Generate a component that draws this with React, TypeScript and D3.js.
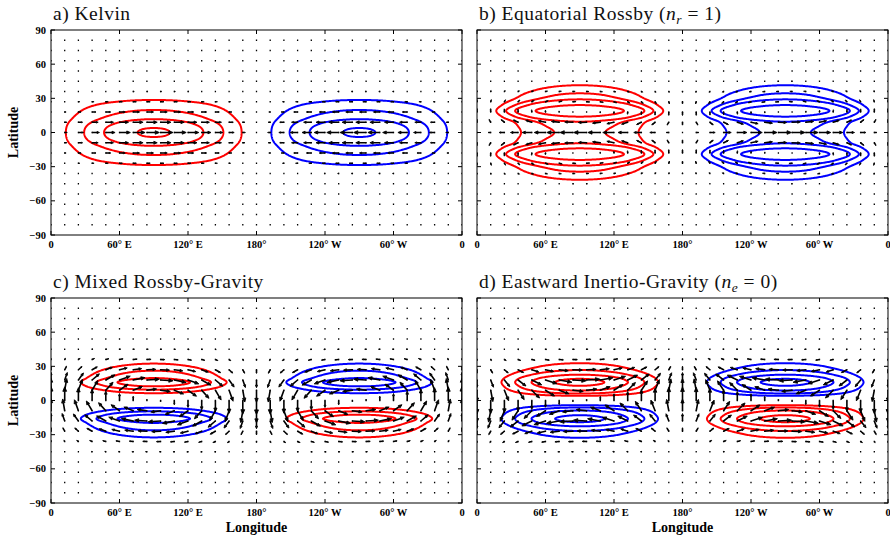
import React from 'react';
import * as d3 from 'd3';

// ---------- axes ----------
const LON_TICKS = [0, 60, 120, 180, 240, 300, 360];
const LON_TICK_LABELS = ['0', '60\u00b0 E', '120\u00b0 E', '180\u00b0', '120\u00b0 W', '60\u00b0 W', '0'];
const LAT_TICKS = [-90, -60, -30, 0, 30, 60, 90];
const LAT_TICK_LABELS = ['\u221290', '\u221260', '\u221230', '0', '30', '60', '90'];

// ---------- quiver grid ----------
const ARROW_LONS = [0, 12, 24, 36, 48, 60, 72, 84, 96, 108, 120, 132, 144, 156, 168, 180, 192, 204, 216, 228, 240, 252, 264, 276, 288, 300, 312, 324, 336, 348, 360];
const ARROW_ABS_LATS = [0, 9, 18, 27, 36, 45, 54, 63, 72, 81];

// ---------- a) Kelvin ----------
const KELVIN_H_LATS = [0, 4, 8, 12, 16, 20, 24, 28, 32, 36, 40, 45, 50, 60, 90];
const KELVIN_H = [1, 0.97, 0.87, 0.715, 0.59, 0.478, 0.36, 0.24, 0.15, 0.085, 0.045, 0.02, 0.008, 0, 0];
const KELVIN_LEVELS = [0.225, 0.485, 0.725, 0.97];
const KELVIN_U = [1, 0.831, 0.534, 0.27, 0.085, 0.02, 0.004, 0, 0, 0];
const KELVIN_V = [0, 0, 0, 0, 0, 0, 0, 0, 0, 0];

// ---------- b) Equatorial Rossby n=1 ----------
const ROSSBY_H_LATS = [0, 5, 9.5, 13.9, 19, 24.1, 29.1, 34.4, 41.5, 48, 55, 63, 72, 90];
const ROSSBY_H = [0.465, 0.49, 0.55, 0.78, 1, 0.78, 0.55, 0.43, 0.29, 0.17, 0.08, 0.03, 0.01, 0];
const ROSSBY_LEVELS = [0.29, 0.43, 0.55, 0.78];
const ROSSBY_U = [-1, -0.636, -0.015, 0.244, 0.175, 0.063, 0.014, 0.002, 0, 0];
const ROSSBY_V = [0, 0.225, 0.266, 0.166, 0.065, 0.017, 0.003, 0, 0, 0];

// ---------- c) Mixed Rossby-Gravity ----------
const MRG_H_LATS = [0, 6.4, 9.5, 12.4, 16, 19.7, 26.2, 32.4, 38, 44, 50, 60, 90];
const MRG_H = [0, 0.44, 0.64, 0.85, 1, 0.85, 0.64, 0.44, 0.28, 0.15, 0.07, 0.015, 0];
const MRG_LEVELS = [0.44, 0.64, 0.85];
const MRG_U = [0, 0.7, 0.89, 0.64, 0.3, 0.098, 0.023, 0.004, 0, 0];
const MRG_V = [1, 0.862, 0.552, 0.262, 0.093, 0.024, 0.005, 0.001, 0, 0];

// ---------- d) Eastward Inertio-Gravity n=0 ----------
const EIG_H_LATS = [0, 4.1, 6.15, 8.75, 12.9, 16, 19.05, 22.7, 26.75, 32.75, 39, 45, 52, 60, 90];
const EIG_H = [0, 0.365, 0.55, 0.74, 0.93, 1, 0.93, 0.74, 0.55, 0.365, 0.2, 0.1, 0.04, 0.01, 0];
const EIG_LEVELS = [0.365, 0.55, 0.74, 0.93];
const EIG_U = [0, 0.774, 0.992, 0.707, 0.333, 0.109, 0.026, 0.004, 0, 0];
const EIG_V = [-1, -0.862, -0.552, -0.262, -0.093, -0.024, -0.005, -0.001, 0, 0];

const WAVENUMBER = 1;
const PLOT_W = 411;
const PLOT_H = 205;
const SERIF = '"Liberation Serif", "Times New Roman", serif';

type PanelDef = {
  id: string;
  x0: number;
  y0: number;
  hLats: number[];
  hVals: number[];
  hParity: number; // 1 symmetric, -1 antisymmetric
  levels: number[];
  uProf: number[];
  vProf: number[];
  uParity: number;
  vParity: number;
  arrowScale: number;
  showYLabels: boolean;
  showXTitle: boolean;
  title: React.ReactNode;
};

const PANELS: PanelDef[] = [
  {
    id: 'a', x0: 51, y0: 30, hLats: KELVIN_H_LATS, hVals: KELVIN_H, hParity: 1, levels: KELVIN_LEVELS,
    uProf: KELVIN_U, vProf: KELVIN_V, uParity: 1, vParity: -1, arrowScale: 12.5, showYLabels: true, showXTitle: false,
    title: <tspan>a) Kelvin</tspan>,
  },
  {
    id: 'b', x0: 477, y0: 30, hLats: ROSSBY_H_LATS, hVals: ROSSBY_H, hParity: 1, levels: ROSSBY_LEVELS,
    uProf: ROSSBY_U, vProf: ROSSBY_V, uParity: 1, vParity: -1, arrowScale: 13, showYLabels: false, showXTitle: false,
    title: (
      <>
        <tspan>b) Equatorial Rossby (</tspan>
        <tspan fontStyle="italic">n</tspan>
        <tspan fontStyle="italic" fontSize={13.5} dy={4}>r</tspan>
        <tspan dy={-4}> = 1)</tspan>
      </>
    ),
  },
  {
    id: 'c', x0: 51, y0: 298, hLats: MRG_H_LATS, hVals: MRG_H, hParity: -1, levels: MRG_LEVELS,
    uProf: MRG_U, vProf: MRG_V, uParity: -1, vParity: 1, arrowScale: 14, showYLabels: true, showXTitle: true,
    title: <tspan>c) Mixed Rossby-Gravity</tspan>,
  },
  {
    id: 'd', x0: 477, y0: 298, hLats: EIG_H_LATS, hVals: EIG_H, hParity: -1, levels: EIG_LEVELS,
    uProf: EIG_U, vProf: EIG_V, uParity: -1, vParity: 1, arrowScale: 13.5, showYLabels: false, showXTitle: true,
    title: (
      <>
        <tspan>d) Eastward Inertio-Gravity (</tspan>
        <tspan fontStyle="italic">n</tspan>
        <tspan fontStyle="italic" fontSize={13.5} dy={4}>e</tspan>
        <tspan dy={-4}> = 0)</tspan>
      </>
    ),
  },
];

const RAD = Math.PI / 180;
const NX = 361; // lon step 1
const NY = 361; // lat step 0.5
const LON_STEP = 1;
const LAT_STEP = 0.5;

// smooth (monotone cubic) meridional profile through the read-off knots,
// mirrored about the equator with the given parity
function makeProfile(lats: number[], vals: number[], parity: number) {
  const xs: number[] = [];
  const ys: number[] = [];
  for (let k = lats.length - 1; k > 0; k--) {
    xs.push(-lats[k]);
    ys.push(parity * vals[k]);
  }
  for (let k = 0; k < lats.length; k++) {
    xs.push(lats[k]);
    ys.push(vals[k]);
  }
  const n = xs.length;
  const h: number[] = [];
  const s: number[] = [];
  for (let i = 0; i < n - 1; i++) {
    h[i] = xs[i + 1] - xs[i];
    s[i] = (ys[i + 1] - ys[i]) / h[i];
  }
  const m: number[] = new Array(n).fill(0);
  m[0] = s[0];
  m[n - 1] = s[n - 2];
  for (let i = 1; i < n - 1; i++) {
    const p = (s[i - 1] * h[i] + s[i] * h[i - 1]) / (h[i - 1] + h[i]);
    m[i] = (Math.sign(s[i - 1]) + Math.sign(s[i])) * Math.min(Math.abs(s[i - 1]), Math.abs(s[i]), 0.5 * Math.abs(p)) || 0;
  }
  return (xv: number) => {
    if (xv <= xs[0]) return ys[0];
    if (xv >= xs[n - 1]) return ys[n - 1];
    let i = d3.bisectRight(xs, xv) - 1;
    if (i > n - 2) i = n - 2;
    const hh = h[i];
    const t = (xv - xs[i]) / hh;
    const t2 = t * t;
    const t3 = t2 * t;
    return (
      (2 * t3 - 3 * t2 + 1) * ys[i] +
      (t3 - 2 * t2 + t) * hh * m[i] +
      (-2 * t3 + 3 * t2) * ys[i + 1] +
      (t3 - t2) * hh * m[i + 1]
    );
  };
}

function Panel({ p }: { p: PanelDef }) {
  const x = d3.scaleLinear().domain([0, 360]).range([p.x0, p.x0 + PLOT_W]);
  const y = d3.scaleLinear().domain([-90, 90]).range([p.y0 + PLOT_H, p.y0]);

  const hProfile = makeProfile(p.hLats, p.hVals, p.hParity);
  const values: number[] = new Array(NX * NY);
  for (let j = 0; j < NY; j++) {
    const lat = -90 + j * LAT_STEP;
    const mv = hProfile(lat);
    for (let i = 0; i < NX; i++) {
      const lon = i * LON_STEP;
      values[j * NX + i] = mv * Math.sin(WAVENUMBER * lon * RAD);
    }
  }
  const neg = values.map((v) => -v);
  const gen = d3.contours().size([NX, NY]).thresholds(p.levels);
  const posC = gen(values);
  const negC = gen(neg);
  const proj = d3.geoTransform({
    point(px: number, py: number) {
      (this as any).stream.point(x((px - 0.5) * LON_STEP), y(-90 + (py - 0.5) * LAT_STEP));
    },
  });
  const path = d3.geoPath(proj);

  // arrows
  const signedLats: { lat: number; idx: number }[] = [];
  ARROW_ABS_LATS.forEach((a, idx) => {
    if (a === 0) signedLats.push({ lat: 0, idx });
    else {
      signedLats.push({ lat: a, idx });
      signedLats.push({ lat: -a, idx });
    }
  });
  const dots: string[] = [];
  const arrows: string[] = [];
  const heads: string[] = [];
  const S = p.arrowScale;
  ARROW_LONS.forEach((lon) => {
    const sn = Math.sin(WAVENUMBER * lon * RAD);
    const cs = Math.cos(WAVENUMBER * lon * RAD);
    signedLats.forEach(({ lat, idx }) => {
      const sg = Math.sign(lat);
      const u = p.uProf[idx] * (p.uParity < 0 ? sg : 1) * sn;
      const v = p.vProf[idx] * (p.vParity < 0 ? sg : 1) * cs;
      const X = x(lon);
      const Y = y(lat);
      dots.push(`M${(X - 0.65).toFixed(2)},${(Y - 0.65).toFixed(2)}h1.3v1.3h-1.3Z`);
      const dx = S * u;
      const dy = -S * v;
      const L = Math.hypot(dx, dy);
      if (L < 0.8) return;
      const tx = X + dx;
      const ty = Y + dy;
      const a = 0.33;
      const b = 0.42;
      const bx = tx - a * dx;
      const by = ty - a * dy;
      arrows.push(`M${X.toFixed(2)},${Y.toFixed(2)}L${bx.toFixed(2)},${by.toFixed(2)}`);
      const p1x = tx - a * (dx - b * dy);
      const p1y = ty - a * (dy + b * dx);
      const p2x = tx - a * (dx + b * dy);
      const p2y = ty - a * (dy - b * dx);
      heads.push(`M${p1x.toFixed(2)},${p1y.toFixed(2)}L${tx.toFixed(2)},${ty.toFixed(2)}L${p2x.toFixed(2)},${p2y.toFixed(2)}Z`);
    });
  });

  const tickLen = 4;

  return (
    <g>
      <text x={p.x0 + 2} y={p.y0 - 10} fontFamily={SERIF} fontSize={19.5} letterSpacing={0.5} fill="#111">
        {p.title}
      </text>
      <defs>
        <clipPath id={`clip-${p.id}`}>
          <rect x={p.x0} y={p.y0} width={PLOT_W} height={PLOT_H} />
        </clipPath>
      </defs>
      <g clipPath={`url(#clip-${p.id})`}>
        {posC.map((g, k) => (
          <path key={`p${k}`} d={path(g as any) || ''} fill="none" stroke="#ff0000" strokeWidth={2} strokeLinejoin="round" />
        ))}
        {negC.map((g, k) => (
          <path key={`n${k}`} d={path(g as any) || ''} fill="none" stroke="#0000ff" strokeWidth={2} strokeLinejoin="round" />
        ))}
        <path d={dots.join('')} fill="#000" />
        <path d={arrows.join('')} fill="none" stroke="#000" strokeWidth={1.6} strokeLinecap="butt" />
        <path d={heads.join('')} fill="#000" stroke="#000" strokeWidth={0.9} strokeLinejoin="miter" />
      </g>
      <rect x={p.x0} y={p.y0} width={PLOT_W} height={PLOT_H} fill="none" stroke="#000" strokeWidth={1} />
      {LON_TICKS.map((t, k) => (
        <g key={`xt${k}`}>
          <line x1={x(t)} x2={x(t)} y1={p.y0 + PLOT_H} y2={p.y0 + PLOT_H - tickLen} stroke="#000" strokeWidth={1} />
          <line x1={x(t)} x2={x(t)} y1={p.y0} y2={p.y0 + tickLen} stroke="#000" strokeWidth={1} />
          <text x={x(t)} y={p.y0 + PLOT_H + 12.5} textAnchor="middle" fontFamily={SERIF} fontWeight="bold" fontSize={10.5} fill="#000">
            {LON_TICK_LABELS[k]}
          </text>
        </g>
      ))}
      {LAT_TICKS.map((t, k) => (
        <g key={`yt${k}`}>
          <line x1={p.x0} x2={p.x0 + tickLen} y1={y(t)} y2={y(t)} stroke="#000" strokeWidth={1} />
          <line x1={p.x0 + PLOT_W} x2={p.x0 + PLOT_W - tickLen} y1={y(t)} y2={y(t)} stroke="#000" strokeWidth={1} />
          {p.showYLabels && (
            <text x={p.x0 - 5} y={y(t) + 3.5} textAnchor="end" fontFamily={SERIF} fontWeight="bold" fontSize={10.5} fill="#000">
              {LAT_TICK_LABELS[k]}
            </text>
          )}
        </g>
      ))}
      {p.showYLabels && (
        <text
          transform={`translate(${p.x0 - 33.5},${p.y0 + PLOT_H / 2}) rotate(-90)`}
          textAnchor="middle"
          fontFamily={SERIF}
          fontWeight="bold"
          fontSize={14}
          fill="#000"
        >
          Latitude
        </text>
      )}
      {p.showXTitle && (
        <text x={p.x0 + PLOT_W / 2} y={p.y0 + PLOT_H + 29} textAnchor="middle" fontFamily={SERIF} fontWeight="bold" fontSize={14} fill="#000">
          Longitude
        </text>
      )}
    </g>
  );
}

export default function App() {
  return (
    <svg
      width={890}
      height={536}
      viewBox="0 0 890 536"
      style={{ position: 'absolute', left: 0, top: 0, background: '#fff' }}
    >
      <rect x={0} y={0} width={890} height={536} fill="#fff" />
      {PANELS.map((p) => (
        <Panel key={p.id} p={p} />
      ))}
    </svg>
  );
}
